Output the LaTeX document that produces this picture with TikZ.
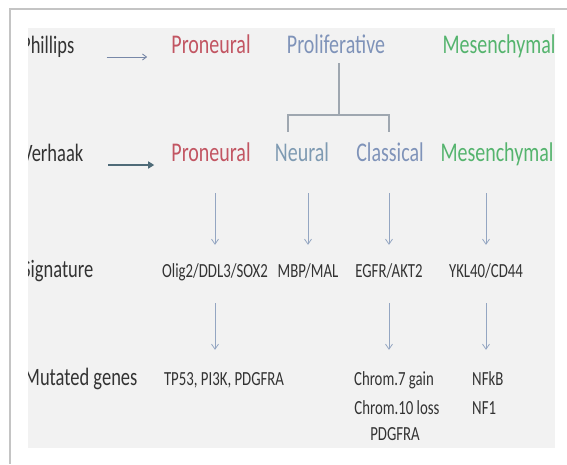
\documentclass[tikz,border=0pt]{standalone}
\usepackage{fontspec}
\setmainfont{Carlito}[FakeStretch=0.74]
\usetikzlibrary{arrows.meta,calc}
\definecolor{redtx}{HTML}{C25562}
\definecolor{bluetx}{HTML}{7F93B9}
\definecolor{neutx}{HTML}{7E9AB2}
\definecolor{greentx}{HTML}{55B46E}
\definecolor{darktx}{HTML}{333333}
\definecolor{panel}{HTML}{F2F2F2}
\definecolor{frame}{HTML}{C4C4C4}
\definecolor{arrc}{HTML}{94A6C2}
\definecolor{arrone}{HTML}{7888A8}
\definecolor{arrtwo}{HTML}{4F6B78}
\definecolor{treec}{HTML}{9FA7B0}
\tikzset{
  big/.style={inner sep=0pt, anchor=base, font=\fontsize{27}{30}\selectfont, text height=20pt, text depth=6pt},
  rowlab/.style={inner sep=0pt, anchor=base west, text=darktx, font=\fontsize{25}{28}\selectfont, text height=19pt, text depth=6pt},
  small/.style={inner sep=0pt, anchor=base, text=darktx, font=\fontsize{20}{28}\selectfont, text height=14pt, text depth=4pt},
  darr/.style={draw=arrc, line width=0.8pt, -{Straight Barb[length=5pt,width=7pt]}},
  harrone/.style={draw=arrone, line width=0.9pt, -{Straight Barb[length=4pt,width=6pt]}},
  harrtwo/.style={draw=arrtwo, line width=1.8pt, -{Triangle[length=6pt,width=7pt]}},
  tree/.style={draw=treec, line width=1.1pt},
}
\begin{document}
\begin{tikzpicture}[x=1pt,y=-1pt]
\useasboundingbox (0,0) rectangle (567,464);
\fill[white] (0,0) rectangle (567,464);
% frame
\draw[frame, line width=1.5pt] (567,9) -- (10,9) -- (10,464);
% panel
\fill[panel] (28,28) rectangle (555,448);
\begin{scope}
\clip (28,28) rectangle (555,448);
% row labels
\node[rowlab] (phil) at (21,53) {Phillips};
\node[rowlab] (verh) at (22,161) {Verhaak};
\node[rowlab] (sign) at (22,277) {Signature};
\node[rowlab] (muta) at (24,385) {Mutated genes};
\end{scope}
% row 1
\node[big, text=redtx] (pn1) at (211,53) {Proneural};
\node[big, text=bluetx] (prolif) at (336,53) {Proliferative};
\node[big, text=greentx] (mes1) at (499,53) {Mesenchymal};
% row 2
\node[big, text=redtx] (pn2) at (211,161) {Proneural};
\node[big, text=neutx] (neu) at (302,161) {Neural};
\node[big, text=bluetx] (cl) at (390,161) {Classical};
\node[big, text=greentx] (mes2) at (497,161) {Mesenchymal};
% row 3
\node[small] (olig) at (215,277) {Olig2/DDL3/SOX2};
\node[small] (mbp) at (308,277) {MBP/MAL};
\node[small] (egfr) at (389,277) {EGFR/AKT2};
\node[small] (ykl) at (486,277) {YKL40/CD44};
% row 4
\node[small] (tp) at (224,385) {TP53, PI3K, PDGFRA};
\node[small] (chromA) at (394,385) {Chrom.7 gain};
\node[small] (chromB) at (397,414) {Chrom.10 loss};
\node[small] (chromC) at (395,440) {PDGFRA};
\node[small, anchor=base west] (nfkb) at (472,385) {NFkB};
\node[small, anchor=base west] (nfone) at (472,414) {NF1};
% horizontal arrows
\draw[harrone, shorten <=32pt, shorten >=24pt] ([yshift=-4pt]phil.base east) -- ([yshift=-4pt]pn1.base west);
\draw[harrtwo, shorten <=25pt, shorten >=17pt] ([yshift=-4pt]verh.base east) -- ([yshift=-4pt]pn2.base west);
% tree
\coordinate (jn) at (339,115);
\coordinate (jl) at (288,115);
\coordinate (jr) at (389,115);
\draw[tree, shorten <=4pt] (jn |- prolif.south) -- (jn);
\draw[tree, shorten <=9pt, shorten >=9pt] (jl |- neu.north) -- (jl) -- (jr) -- (jr |- cl.north);
% down arrows, first set
\draw[darr, shorten <=26pt, shorten >=18pt] (olig.north |- pn2.south) -- (olig.north);
\draw[darr, shorten <=26pt, shorten >=18pt] (mbp.north |- neu.south) -- (mbp.north);
\draw[darr, shorten <=26pt, shorten >=18pt] (egfr.north |- cl.south) -- (egfr.north);
\draw[darr, shorten <=26pt, shorten >=18pt] (ykl.north |- mes2.south) -- (ykl.north);
% down arrows, second set
\draw[darr, shorten <=22pt, shorten >=21pt] (olig.south) -- (olig.south |- tp.north);
\draw[darr, shorten <=22pt, shorten >=21pt] (egfr.south) -- (egfr.south |- chromA.north);
\draw[darr, shorten <=22pt, shorten >=21pt] (ykl.south) -- (ykl.south |- nfkb.north);
\end{tikzpicture}
\end{document}
